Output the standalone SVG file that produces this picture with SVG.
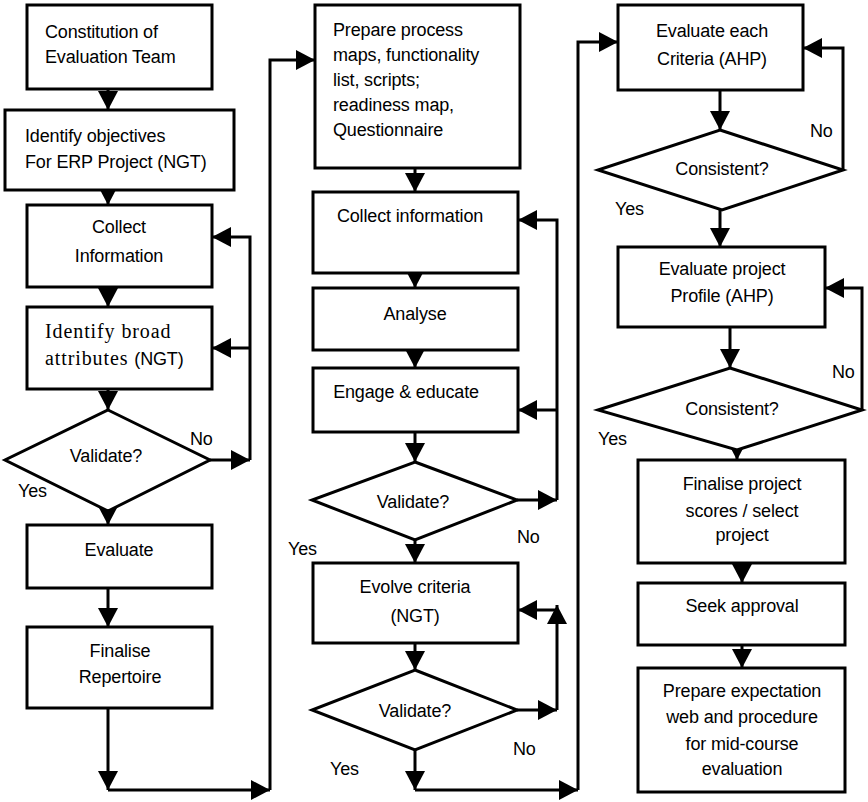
<svg xmlns="http://www.w3.org/2000/svg" width="868" height="802" viewBox="0 0 868 802">
<style>
.box{fill:#fff;stroke:#000;stroke-width:3}
.dia{fill:#fff;stroke:#000;stroke-width:3}
.t{font-family:"Liberation Sans",Arial,sans-serif;font-size:18px;fill:#000;letter-spacing:-0.15px}
.c{text-anchor:middle}
.s{font-family:"Liberation Serif","Times New Roman",serif;font-size:20px;letter-spacing:0.9px}
.ln{fill:none;stroke:#000;stroke-width:3}
</style>
<defs>
<marker id="ah" markerUnits="userSpaceOnUse" markerWidth="22" markerHeight="22" refX="19" refY="10" orient="auto" viewBox="0 0 22 22">
<path d="M0,0 L19,10 L0,20 z" fill="#000"/>
</marker>
</defs>
<rect width="868" height="802" fill="#fff"/>
<g id="connectors" class="ln" marker-end="url(#ah)">
<path d="M108,89 V110"/>
<path d="M108,190 V205"/>
<path d="M108,287 V307"/>
<path d="M108,389 V410"/>
<path d="M210,460 H250"/>
<path d="M250,460 V237 H212"/>
<path d="M250,348 H212"/>
<path d="M108,511 V525"/>
<path d="M108,588 V627"/>
<path d="M108,708 V790"/>
<path d="M108,790 H270"/>
<path d="M270,790 V60 H315"/>
<path d="M415,168 V192"/>
<path d="M415,273 V288"/>
<path d="M415,350 V368"/>
<path d="M415,432 V462"/>
<path d="M517,500 H557"/>
<path d="M557,500 V220 H518"/>
<path d="M557,410 H518"/>
<path d="M415,540 V563"/>
<path d="M415,643 V670"/>
<path d="M517,710 H557"/>
<path d="M557,710 V605"/>
<path d="M557,610 H518"/>
<path d="M415,750 V790"/>
<path d="M415,790 H578"/>
<path d="M578,790 V42 H618"/>
<path d="M720,90 V130"/>
<path d="M843,170 V48 H803"/>
<path d="M720,210 V247"/>
<path d="M730,327 V368"/>
<path d="M862,410 V288 H825"/>
<path d="M737,440 V460"/>
<path d="M742,563 V583"/>
<path d="M742,645 V668"/>
</g>
<g id="n1"><rect class="box" x="27" y="5" width="185" height="84"/><text class="t" x="45" y="38">Constitution of</text><text class="t" x="45" y="63">Evaluation Team</text></g>
<g id="n2"><rect class="box" x="5" y="110" width="229" height="80"/><text class="t" x="25" y="142">Identify objectives</text><text class="t" x="25" y="168">For ERP Project (NGT)</text></g>
<g id="n3"><rect class="box" x="27" y="205" width="185" height="82"/><text class="t c" x="119" y="233">Collect</text><text class="t c" x="119" y="262">Information</text></g>
<g id="n4"><rect class="box" x="27" y="307" width="185" height="82"/><text class="t s" x="45" y="338">Identify broad</text><text class="t s" x="45" y="365">attributes <tspan style="font-family:'Liberation Sans',Arial,sans-serif;font-size:18px;letter-spacing:-0.15px">(NGT)</tspan></text></g>
<g id="d1"><polygon class="dia" points="108,410 210,460 108,511 5,460"/><text class="t c" x="106" y="462">Validate?</text></g>
<text class="t" x="190" y="445">No</text>
<text class="t" x="18" y="497">Yes</text>
<g id="n5"><rect class="box" x="27" y="525" width="185" height="63"/><text class="t c" x="119" y="556">Evaluate</text></g>
<g id="n6"><rect class="box" x="27" y="627" width="185" height="81"/><text class="t c" x="120" y="657">Finalise</text><text class="t c" x="120" y="683">Repertoire</text></g>
<g id="m1"><rect class="box" x="315" y="5" width="205" height="163"/><text class="t" x="333" y="36">Prepare process</text><text class="t" x="333" y="61">maps, functionality</text><text class="t" x="333" y="86">list, scripts;</text><text class="t" x="333" y="111">readiness map,</text><text class="t" x="333" y="136">Questionnaire</text></g>
<g id="m2"><rect class="box" x="313" y="192" width="205" height="81"/><text class="t c" x="410" y="222">Collect information</text></g>
<g id="m3"><rect class="box" x="313" y="288" width="205" height="62"/><text class="t c" x="415" y="320">Analyse</text></g>
<g id="m4"><rect class="box" x="313" y="368" width="205" height="64"/><text class="t c" x="406" y="398">Engage &amp; educate</text></g>
<g id="md1"><polygon class="dia" points="415,462 517,500 415,540 312,500"/><text class="t c" x="413" y="508">Validate?</text></g>
<text class="t" x="517" y="543">No</text>
<text class="t" x="288" y="555">Yes</text>
<g id="m5"><rect class="box" x="313" y="563" width="205" height="80"/><text class="t c" x="415" y="593">Evolve criteria</text><text class="t c" x="415" y="622">(NGT)</text></g>
<g id="md2"><polygon class="dia" points="415,670 517,710 415,750 312,710"/><text class="t c" x="415" y="717">Validate?</text></g>
<text class="t" x="513" y="755">No</text>
<text class="t" x="330" y="775">Yes</text>
<g id="r1"><rect class="box" x="618" y="5" width="185" height="85"/><text class="t c" x="712" y="37">Evaluate each</text><text class="t c" x="712" y="65">Criteria (AHP)</text></g>
<g id="rd1"><polygon class="dia" points="720,130 843,170 722,210 598,170"/><text class="t c" x="722" y="175">Consistent?</text></g>
<text class="t" x="810" y="137">No</text>
<text class="t" x="615" y="215">Yes</text>
<g id="r2"><rect class="box" x="618" y="247" width="207" height="80"/><text class="t c" x="722" y="275">Evaluate project</text><text class="t c" x="722" y="302">Profile (AHP)</text></g>
<g id="rd2"><polygon class="dia" points="730,368 862,410 737,450 598,410"/><text class="t c" x="732" y="415">Consistent?</text></g>
<text class="t" x="832" y="378">No</text>
<text class="t" x="598" y="445">Yes</text>
<g id="r3"><rect class="box" x="638" y="460" width="207" height="103"/><text class="t c" x="742" y="490">Finalise project</text><text class="t c" x="742" y="517">scores / select</text><text class="t c" x="742" y="541">project</text></g>
<g id="r4"><rect class="box" x="638" y="583" width="207" height="62"/><text class="t c" x="742" y="612">Seek approval</text></g>
<g id="r5"><rect class="box" x="638" y="668" width="207" height="124"/><text class="t c" x="742" y="697">Prepare expectation</text><text class="t c" x="742" y="723">web and procedure</text><text class="t c" x="742" y="750">for mid-course</text><text class="t c" x="742" y="775">evaluation</text></g>
</svg>
